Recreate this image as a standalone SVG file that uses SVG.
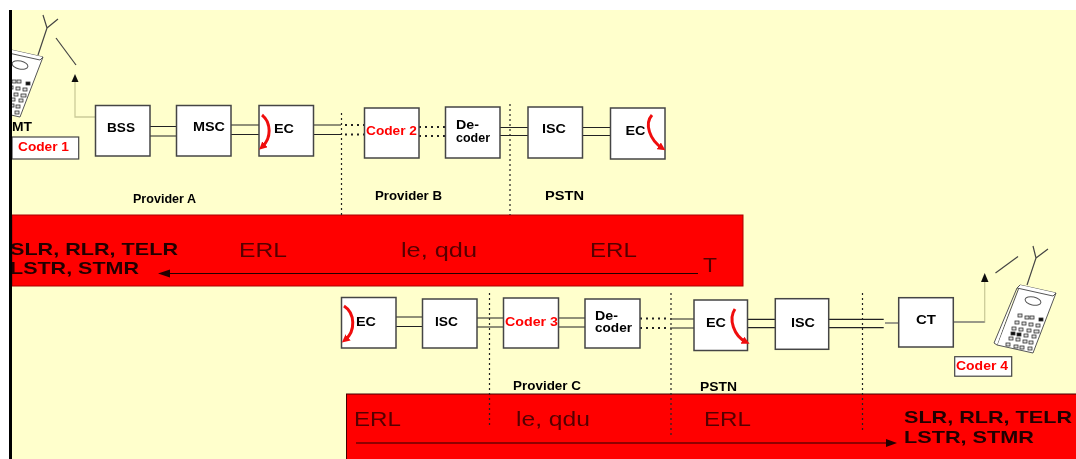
<svg xmlns="http://www.w3.org/2000/svg" xmlns:xlink="http://www.w3.org/1999/xlink" width="1076" height="459" viewBox="0 0 1076 459">
<style>
.box{fill:#fff;stroke:#444;stroke-width:1.5}
.l{fill:#000;font:bold 12.500px "Liberation Sans",Arial,sans-serif}
.r{fill:#f00;font:bold 12.500px "Liberation Sans",Arial,sans-serif}
.e{fill:#500;font:20px "Liberation Sans",Arial,sans-serif}
.b{fill:#200;font:bold 17px "Liberation Sans",Arial,sans-serif}
.w{fill:none;stroke:#222;stroke-width:1.2}
.dw{fill:none;stroke:#222;stroke-width:2;stroke-dasharray:2 4}
.sep{fill:none;stroke:#222;stroke-width:1.2;stroke-dasharray:2 3}
.red{fill:none;stroke:#f01010;stroke-width:3}
.ph{fill:#fff;stroke:#555;stroke-width:1}
.k{fill:#ddd;stroke:#333;stroke-width:.8}
.d{fill:#111}
</style>
<defs>
<filter id="soft" x="-5%" y="-5%" width="110%" height="110%"><feGaussianBlur stdDeviation="0.45"/></filter>
<marker id="redh" markerWidth="8" markerHeight="8" refX="4" refY="4" orient="auto" markerUnits="userSpaceOnUse"><path d="M0 0L8 4L0 8Z" fill="#f01010"/></marker>
<clipPath id="page"><rect x="12" y="10" width="1064" height="449"/></clipPath>
<g id="phoneShape">
<path class="ph" d="M1020 285L1056 293L1033 353L997 345Z"/>
<path class="ph" d="M1020 285L1017 288L1053 296L1056 293M1017 288L994 343L997 345"/>
<ellipse class="ph" cx="1033" cy="301" rx="8" ry="4" transform="rotate(12 1033 301)"/>
<g class="k">
<rect x="1018" y="314" width="4" height="3"/><rect x="1025" y="316" width="4" height="3"/><rect x="1030" y="316" width="4" height="3"/><rect class="d" x="1039" y="318" width="4" height="3"/>
<rect x="1015" y="321" width="4" height="3"/><rect x="1022" y="322" width="4" height="3"/><rect x="1029" y="323" width="4" height="3"/><rect x="1036" y="324" width="4" height="3"/>
<rect x="1012" y="327" width="4" height="3"/><rect x="1019" y="328" width="4" height="3"/><rect x="1027" y="329" width="4" height="3"/><rect x="1034" y="330" width="5" height="3"/>
<rect class="d" x="1011" y="332" width="4" height="3"/><rect class="d" x="1017" y="333" width="4" height="3"/><rect x="1024" y="334" width="4" height="3"/><rect x="1032" y="335" width="4" height="3"/>
<rect x="1009" y="337" width="4" height="3"/><rect x="1016" y="338" width="4" height="3"/><rect x="1023" y="340" width="4" height="3"/><rect x="1029" y="341" width="4" height="3"/>
<rect x="1006" y="343" width="4" height="3"/><rect x="1014" y="345" width="4" height="3"/><rect x="1020" y="346" width="4" height="3"/><rect x="1028" y="347" width="4" height="3"/>
</g>
</g>
</defs>

<rect width="1076" height="459" fill="#fff"/>
<g filter="url(#soft)">
<rect x="12" y="10" width="1064" height="449" fill="#ffffcc"/>

<g id="bands">
<rect x="12" y="215" width="731" height="71" fill="#f00" stroke="#a00" stroke-width="1"/>
<rect x="346.500" y="394" width="730" height="66" fill="#f00" stroke="#400" stroke-width="1"/>
</g>

<g id="connectors">
<path class="w" d="M150 126.500H176.500M150 136H179M231 125H259M231 134.500H259M313.500 125H341M313.500 134.500H341"/>
<path class="dw" d="M345 125H364M345 134.500H364M419 127H445M419 136H445"/>
<path class="w" d="M500 127.500H528M500 135.500H528M582.500 127.500H610.500M582.500 135.500H610.500"/>
<path class="w" d="M396 317H422.500M396 326.500H422.500M477 318H505M477 327H505M558.500 318H585M558.500 327H585"/>
<path class="dw" d="M640 318.500H670M640 328H670"/>
<path class="w" d="M670 319H694M670 328H694M747.500 319.300H775.500M747.500 327.700H775.500M828.500 319.300H883.700M828.500 327.700H883.700"/>
<path d="M885 323H898.700" fill="none" stroke="#666" stroke-width="1.3"/>
<path d="M95.500 117H75V80" fill="none" stroke="#cccc99" stroke-width="1.3"/>
<path d="M75 74L71.500 82H78.500Z" fill="#111"/>
<path d="M953.500 322H984.700V282" fill="none" stroke="#cccc99" stroke-width="1.3"/>
<path d="M953.500 322H984.700" fill="none" stroke="#777" stroke-width="1.3"/>
<path d="M984.700 273L981 282H988.500Z" fill="#111"/>
<path class="sep" d="M341.500 113V215M510 104V215M489.500 293V426M671 293V436M862.500 293V431"/>
<path d="M698 273.500H168" fill="none" stroke="#200" stroke-width="1.2"/>
<path d="M158 273.500L170 269.500V277.500Z" fill="#200"/>
<path d="M356 443H887" fill="none" stroke="#200" stroke-width="1.2"/>
<path d="M897 443L886 439V447Z" fill="#200"/>
</g>

<g id="phone-mt" clip-path="url(#page)">
<use xlink:href="#phoneShape" href="#phoneShape" transform="translate(-1013 -236)"/>
<path d="M38 55L47 28M47 28L43 15M47 28L58 19" fill="none" stroke="#444" stroke-width="1.2"/>
<path d="M56 38L76 65" fill="none" stroke="#444" stroke-width="1.2"/>
<text class="l" x="12" y="131" textLength="20" lengthAdjust="spacingAndGlyphs">MT</text>
</g>
<g id="coder1">
<rect x="12" y="137" width="66.700" height="22" fill="#fff" stroke="#444" stroke-width="1.2"/>
<text class="r" x="18" y="151" textLength="51" lengthAdjust="spacingAndGlyphs">Coder 1</text>
</g>

<g id="bss"><rect class="box" x="95.500" y="105.500" width="54.500" height="50.500"/><text class="l" x="107" y="131.500" textLength="28" lengthAdjust="spacingAndGlyphs">BSS</text></g>
<g id="msc"><rect class="box" x="176.500" y="105.500" width="54.500" height="50.500"/><text class="l" x="193" y="130.500" textLength="32" lengthAdjust="spacingAndGlyphs">MSC</text></g>
<g id="ec1"><rect class="box" x="259" y="105.500" width="54.500" height="50.500"/><text class="l" x="274" y="133" textLength="20" lengthAdjust="spacingAndGlyphs">EC</text><path class="red" marker-end="url(#redh)" d="M262 115C271 122 272 138 262 147"/></g>
<g id="coder2"><rect class="box" x="364.500" y="108" width="54.500" height="50"/><text class="r" x="366" y="135" textLength="51" lengthAdjust="spacingAndGlyphs">Coder 2</text></g>
<g id="decoder1"><rect class="box" x="445.500" y="107" width="54.500" height="51"/><text class="l" x="456" y="129.300" textLength="23" lengthAdjust="spacingAndGlyphs">De-</text><text class="l" x="456" y="141.700" textLength="34" lengthAdjust="spacingAndGlyphs">coder</text></g>
<g id="isc1"><rect class="box" x="528" y="107" width="54.500" height="51"/><text class="l" x="542" y="133" textLength="24" lengthAdjust="spacingAndGlyphs">ISC</text></g>
<g id="ec2"><rect class="box" x="610.500" y="108" width="54.500" height="51"/><text class="l" x="625.500" y="135" textLength="20" lengthAdjust="spacingAndGlyphs">EC</text><path class="red" marker-end="url(#redh)" d="M652 115C644 124 650 140 662 148"/></g>

<g id="ec3"><rect class="box" x="341.500" y="297.500" width="54.500" height="50.500"/><text class="l" x="356" y="326" textLength="20" lengthAdjust="spacingAndGlyphs">EC</text><path class="red" marker-end="url(#redh)" d="M344 306C355 313 356 331 345 340"/></g>
<g id="isc2"><rect class="box" x="422.500" y="299" width="54.500" height="49"/><text class="l" x="435" y="326" textLength="23" lengthAdjust="spacingAndGlyphs">ISC</text></g>
<g id="coder3"><rect class="box" x="503.500" y="298" width="55" height="50"/><text class="r" x="505" y="326" textLength="53" lengthAdjust="spacingAndGlyphs">Coder 3</text></g>
<g id="decoder2"><rect class="box" x="585" y="299" width="55" height="49"/><text class="l" x="595" y="319.500" textLength="23" lengthAdjust="spacingAndGlyphs">De-</text><text class="l" x="595" y="332" textLength="37" lengthAdjust="spacingAndGlyphs">coder</text></g>
<g id="ec4"><rect class="box" x="694" y="300" width="53.500" height="50.500"/><text class="l" x="706" y="326.500" textLength="20" lengthAdjust="spacingAndGlyphs">EC</text><path class="red" marker-end="url(#redh)" d="M735 309C728 319 734 336 746 342"/></g>
<g id="isc3"><rect class="box" x="775.300" y="298.700" width="53.400" height="50.600"/><text class="l" x="791" y="326.500" textLength="24" lengthAdjust="spacingAndGlyphs">ISC</text></g>
<g id="ct"><rect class="box" x="898.700" y="297.700" width="54.600" height="49.300"/><text class="l" x="916" y="324" textLength="20" lengthAdjust="spacingAndGlyphs">CT</text></g>

<g id="phone-ct">
<use xlink:href="#phoneShape" href="#phoneShape"/>
<path d="M1027 285L1036 258M1036 258L1033 246M1036 258L1048 249" fill="none" stroke="#444" stroke-width="1.2"/>
<path d="M995.500 273L1018 256.500" fill="none" stroke="#444" stroke-width="1.2"/>
</g>
<g id="coder4"><rect x="954.700" y="356.700" width="57" height="19.500" fill="#fff" stroke="#444" stroke-width="1.2"/><text class="r" x="956" y="370" textLength="52" lengthAdjust="spacingAndGlyphs">Coder 4</text></g>

<g id="labels">
<text class="l" x="133" y="202.500" textLength="63" lengthAdjust="spacingAndGlyphs">Provider A</text>
<text class="l" x="375" y="200" textLength="67" lengthAdjust="spacingAndGlyphs">Provider B</text>
<text class="l" x="545" y="200" textLength="39" lengthAdjust="spacingAndGlyphs">PSTN</text>
<text class="l" x="513" y="390" textLength="68" lengthAdjust="spacingAndGlyphs">Provider C</text>
<text class="l" x="700" y="391" textLength="37" lengthAdjust="spacingAndGlyphs">PSTN</text>
<text class="e" x="239" y="257" textLength="48" lengthAdjust="spacingAndGlyphs">ERL</text>
<text class="e" x="401" y="257" textLength="76" lengthAdjust="spacingAndGlyphs">le, qdu</text>
<text class="e" x="590" y="257" textLength="47" lengthAdjust="spacingAndGlyphs">ERL</text>
<text class="e" x="703" y="272" textLength="14" lengthAdjust="spacingAndGlyphs">T</text>
<text class="e" x="354" y="426" textLength="47" lengthAdjust="spacingAndGlyphs">ERL</text>
<text class="e" x="516" y="426" textLength="74" lengthAdjust="spacingAndGlyphs">le, qdu</text>
<text class="e" x="704" y="426" textLength="47" lengthAdjust="spacingAndGlyphs">ERL</text>
<text class="b" x="10" y="255" textLength="168" lengthAdjust="spacingAndGlyphs">SLR, RLR, TELR</text>
<text class="b" x="10" y="274" textLength="129" lengthAdjust="spacingAndGlyphs">LSTR, STMR</text>
<text class="b" x="904" y="423" textLength="168" lengthAdjust="spacingAndGlyphs">SLR, RLR, TELR</text>
<text class="b" x="904" y="443" textLength="130" lengthAdjust="spacingAndGlyphs">LSTR, STMR</text>
</g>
<rect x="9" y="10" width="3" height="449" fill="#000"/>
</g>
</svg>
